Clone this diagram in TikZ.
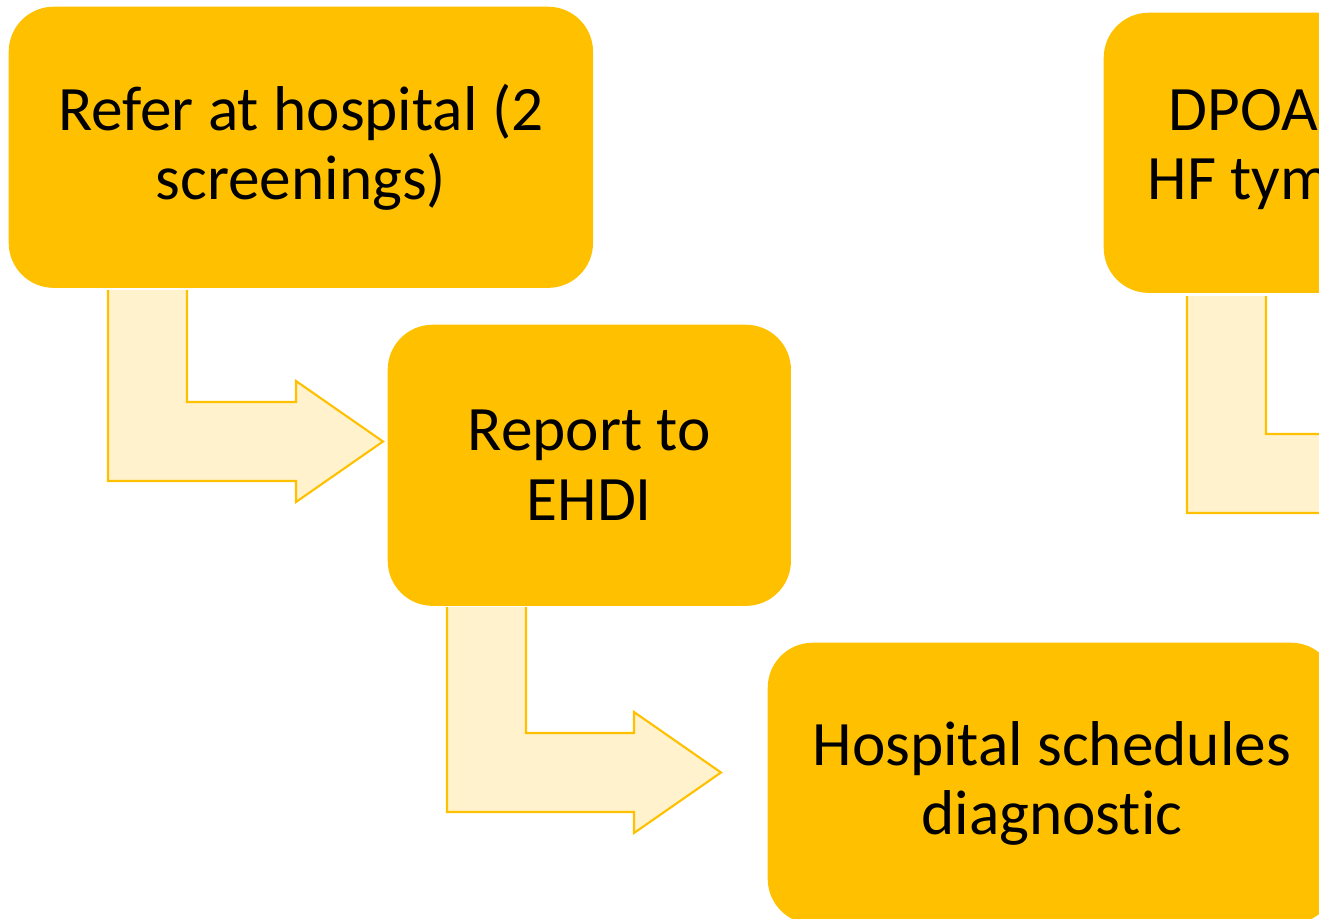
\documentclass[tikz,border=0pt]{standalone}
\usepackage{fontspec}
\setmainfont{Carlito}[Ligatures={NoCommon,NoRare,NoDiscretionary}]
\usepackage{xcolor}
\usetikzlibrary{positioning,calc}
\definecolor{gold}{HTML}{FFC000}
\definecolor{paleGold}{HTML}{FFF2CC}

\begin{document}
\begin{tikzpicture}[x=0.01cm,y=-0.01cm,
        stepbox/.style={fill=gold, rounded corners=0.45cm, align=center, inner sep=0pt, font=\fontsize{18}{19.8}\selectfont},
        steptext/.style={inner sep=0pt, font=\fontsize{18}{19.8}\selectfont}]
    \useasboundingbox (0,0) rectangle (1319,918);
    \clip (0,0) rectangle (1319,918);

    % Steps
    \node[stepbox, anchor=north west, minimum width=5.84cm, minimum height=2.81cm] (refer) at (8,6) {Refer at hospital (2\\screenings)};
    \node[stepbox, anchor=north west, minimum width=4.03cm, minimum height=2.81cm] (report) at (387,324) {Report to\\EHDI};
    \node[stepbox, anchor=north west, minimum width=5.68cm, minimum height=2.81cm] (schedule) at (767,642) {Hospital schedules\\diagnostic};
    \node[stepbox, anchor=north west, minimum width=5.84cm, minimum height=2.80cm] (dpoae) at (1103,12) {};
    \node[steptext, anchor=base west] (dpoaeA) at (1168,130) {DPOAE};
    \node[steptext, anchor=base west] (dpoaeB) at (1147,199) {HF tym};

    % Bent arrows (shaft left / top / bottom / tip)
    \foreach \xl/\yt/\yb/\xt in {108/290/481/383, 447/607/812/721, 1187/296/513/1462} {
        \fill[paleGold] (\xl,\yt) -- (\xl+79,\yt) -- (\xl+79,\yb-79) -- (\xt-87,\yb-79) -- (\xt-87,\yb-100)
            -- (\xt,\yb-39.5) -- (\xt-87,\yb+21) -- (\xt-87,\yb) -- (\xl,\yb) -- cycle;
        \draw[gold, line width=0.6pt] (\xl+79,\yt) -- (\xl+79,\yb-79) -- (\xt-87,\yb-79) -- (\xt-87,\yb-100)
            -- (\xt,\yb-39.5) -- (\xt-87,\yb+21) -- (\xt-87,\yb) -- (\xl,\yb) -- (\xl,\yt);
    }
\end{tikzpicture}
\end{document}
